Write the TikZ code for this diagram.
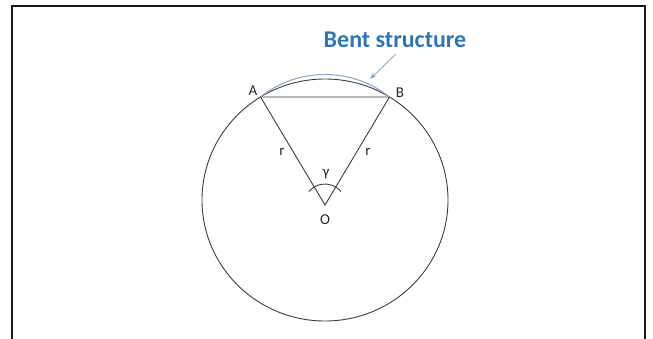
\documentclass[tikz,border=0pt]{standalone}
\usepackage{fontspec}
\setmainfont{Carlito}
\usetikzlibrary{arrows.meta}
\definecolor{titleblue}{RGB}{46,117,182}
\definecolor{liteblue}{RGB}{140,172,212}
\definecolor{linegray}{RGB}{60,60,60}
\begin{document}
\begin{tikzpicture}[x=1pt,y=-1pt,
  geom/.style={draw=linegray,line width=0.9pt},
  lbl/.style={font=\fontsize{15}{15}\selectfont,text=black!85,inner sep=0pt},
  frameline/.style={draw=black!90,line width=2.4pt}]
\useasboundingbox (0,0) rectangle (653,338);
% frame (bottom edge lies below the picture)
\draw[frameline] (12,345) -- (12,6) -- (645,6) -- (645,345);
% geometry
\coordinate (C) at (325,200);
\coordinate (A) at (260.5,97);
\coordinate (B) at (389.5,97);
\coordinate (O) at (325,205);
\draw[geom] (C) ellipse [x radius=123pt, y radius=121pt];
\draw[geom] (A) -- (B) -- (O) -- cycle;
% angle arc (canvas angles, pointing up on the page)
\draw[geom] (O) ++(40:21pt) arc[start angle=40, end angle=140, radius=21pt];
% bent structure arc
\draw[draw=liteblue,line width=1.1pt] (A) .. controls (298,67) and (352,67) .. (B);
% title and arrow
\node[font=\fontsize{24}{24}\selectfont\bfseries,text=titleblue,inner sep=0pt] (T) at (395,40) {Bent structure};
\coordinate (Ts) at (396,54);
\coordinate (Te) at (370,79);
\draw[draw=liteblue,line width=0.9pt,-{Stealth[length=7pt,width=5pt]}] (Ts) -- (Te);
% labels
\node[lbl] (LA) at (253,91) {A};
\node[lbl] (LB) at (400,93) {B};
\node[lbl] (Lr1) at (282,152) {r};
\node[lbl] (Lr2) at (368,152) {r};
\node[lbl] (Lg) at (326,174) {γ};
\node[lbl] (LO) at (325,220) {O};
\end{tikzpicture}
\end{document}
